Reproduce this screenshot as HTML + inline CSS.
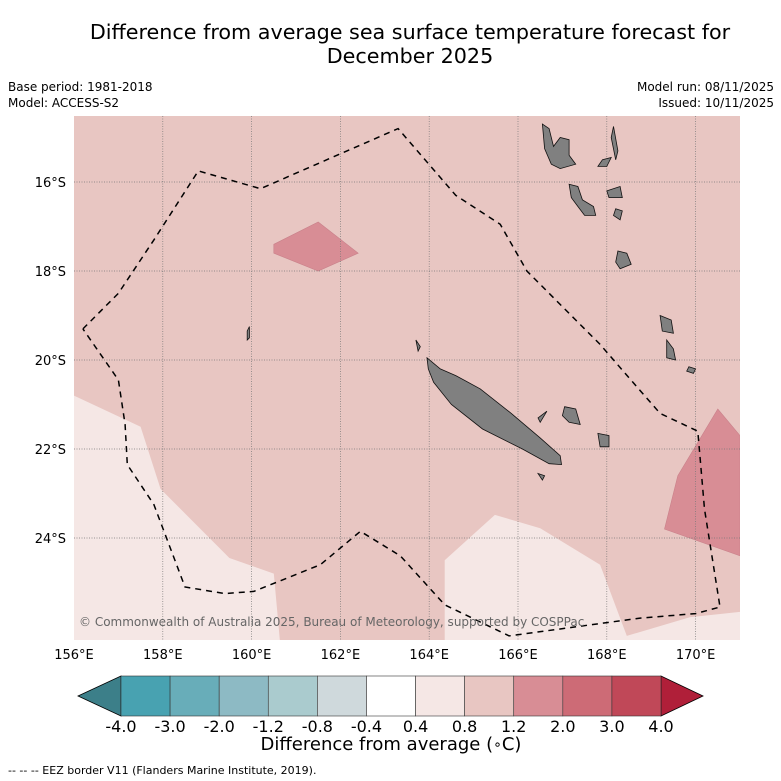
<!DOCTYPE html>
<html><head><meta charset="utf-8"><style>
body{margin:0;background:#fff;width:781px;height:781px;overflow:hidden;font-family:"DejaVu Sans","Liberation Sans",sans-serif}
svg{display:block}
</style></head><body>
<svg id="chart" width="781" height="781" xmlns="http://www.w3.org/2000/svg" font-family="DejaVu Sans, Liberation Sans, sans-serif">
<text x="410" y="39" font-size="20.7" text-anchor="middle">Difference from average sea surface temperature forecast for</text>
<text x="410" y="63" font-size="20.7" text-anchor="middle">December 2025</text>
<text x="8" y="91" font-size="12">Base period: 1981-2018</text>
<text x="8" y="107" font-size="12">Model: ACCESS-S2</text>
<text x="774" y="91" font-size="12" text-anchor="end">Model run: 08/11/2025</text>
<text x="774" y="107" font-size="12" text-anchor="end">Issued: 10/11/2025</text>
<g id="map"></g>
<g id="cbar"></g>
<text x="391" y="750" font-size="18" text-anchor="middle">Difference from average (<tspan font-size="14" dy="-1">∘</tspan><tspan dy="1">C)</tspan></text>
<text x="8" y="774" font-size="11">--  --  -- EEZ border V11 (Flanders Marine Institute, 2019).</text>
</svg>
<script>
const lonTicks=[158,160,162,164,166,168,170];
const lonLabels=["156°E","158°E","160°E","162°E","164°E","166°E","168°E","170°E"];
const latTicks=[16,18,20,22,24];
const levels=["-4.0","-3.0","-2.0","-1.2","-0.8","-0.4","0.4","0.8","1.2","2.0","3.0","4.0"];
const levelColors=["#48a2b1","#68adb9","#8dbac4","#aacbce","#cfd9dc","#ffffff","#f5e7e5","#e8c6c2","#d88d95","#cd6b76","#c04858"];
const lowColor="#3c7f89", highColor="#b01f39";
const lightWest=[[156,20.8],[157.5,21.5],[157.95,22.9],[159.5,24.45],[160.5,24.8],[160.7,27.0],[156,27.0]];
const lightSouth=[[164.35,24.5],[165.48,23.48],[166.5,23.78],[167.85,24.6],[168.45,26.2],[169.87,25.78],[171,25.66],[171,27],[164.35,27]];
const darkNorth=[[160.5,17.4],[161.5,16.9],[162.4,17.6],[161.5,18.0],[160.5,17.6]];
const darkEast=[[169.3,23.8],[169.6,22.6],[170.5,21.1],[171,21.7],[171,24.4]];
const eez=[[156.2,19.3],[157,18.5],[157.8,17.3],[158.8,15.75],[160.2,16.15],[163.3,14.8],[164.6,16.3],[165.6,16.95],[166.2,18.0],[167.3,19.1],[167.85,19.65],[168.5,20.4],[169.2,21.2],[170.05,21.6],[170.2,23.35],[170.55,25.55],[170,25.7],[168.75,25.8],[165.8,26.2],[164.35,25.5],[163.35,24.4],[162.45,23.85],[161.55,24.6],[160.05,25.2],[159.4,25.25],[158.5,25.1],[157.8,23.25],[157.2,22.35],[157.15,21.45],[157,20.45],[156.2,19.3]];
const islands=[
[[163.95,19.95],[164.25,20.2],[164.6,20.35],[165.15,20.65],[165.85,21.2],[166.5,21.75],[166.95,22.15],[166.98,22.35],[166.7,22.33],[166.1,22.0],[165.2,21.55],[164.5,21.0],[164.1,20.5],[163.98,20.2]],
[[166.55,14.7],[166.7,14.8],[166.8,15.2],[166.95,15.0],[167.15,15.05],[167.15,15.4],[167.3,15.6],[166.95,15.7],[166.75,15.6],[166.6,15.25]],
[[167.15,16.05],[167.35,16.1],[167.45,16.4],[167.7,16.55],[167.75,16.75],[167.5,16.75],[167.35,16.55],[167.2,16.35]],
[[167.9,15.5],[168.1,15.45],[168.0,15.65],[167.8,15.65]],
[[168.15,14.75],[168.25,15.3],[168.2,15.5],[168.1,15.0]],
[[168.0,16.2],[168.3,16.1],[168.35,16.35],[168.05,16.35]],
[[168.2,16.6],[168.35,16.65],[168.3,16.85],[168.15,16.75]],
[[168.25,17.55],[168.45,17.6],[168.55,17.85],[168.3,17.95],[168.2,17.8]],
[[169.2,19.0],[169.45,19.1],[169.5,19.4],[169.25,19.35]],
[[169.35,19.55],[169.5,19.75],[169.55,20.0],[169.35,19.95]],
[[169.85,20.15],[170.0,20.2],[169.95,20.3],[169.8,20.25]],
[[167.05,21.05],[167.3,21.1],[167.4,21.45],[167.15,21.4],[167.0,21.25]],
[[167.8,21.65],[168.05,21.7],[168.05,21.95],[167.85,21.95]],
[[166.45,21.3],[166.65,21.15],[166.5,21.4]],
[[166.45,22.55],[166.6,22.6],[166.55,22.7]],
[[159.9,19.35],[159.95,19.25],[159.95,19.5],[159.9,19.55]],
[[163.7,19.55],[163.8,19.7],[163.75,19.8]]];
const NS="http://www.w3.org/2000/svg";
const X=lon=>74+(lon-156)*44.4, Y=lat=>182+(lat-16)*44.5;
const L=74,R=740,T=116,B=640;
const map=document.getElementById('map'), cb=document.getElementById('cbar');
function mk(tag,attrs,parent){const e=document.createElementNS(NS,tag);for(const k in attrs)e.setAttribute(k,attrs[k]);parent.appendChild(e);return e;}
function pts(a){return a.map(p=>X(p[0]).toFixed(1)+","+Y(p[1]).toFixed(1)).join(" ");}
const defs=mk('defs',{},map);const cp=mk('clipPath',{id:'clip'},defs);mk('rect',{x:L,y:T,width:R-L,height:B-T},cp);
const g=mk('g',{'clip-path':'url(#clip)'},map);
const bg=mk('rect',{x:L,y:T,width:R-L,height:B-T,fill:levelColors[7]},g);


[[lightWest,6,'anomaly-light-west'],[lightSouth,6,'anomaly-light-south'],[darkNorth,8,'anomaly-warm-north'],[darkEast,8,'anomaly-warm-east']].forEach(r=>{
 const p=mk('polygon',{points:pts(r[0]),fill:levelColors[r[1]],stroke:r[1]==8?'#c9808a':'none','stroke-width':0.6},g);
 
 
});
lonTicks.forEach(v=>{const l=mk('line',{x1:X(v),x2:X(v),y1:T,y2:B,stroke:'#777','stroke-width':0.7,'stroke-dasharray':'1,1.5'},g);
 
 });
latTicks.forEach(v=>{const l=mk('line',{x1:L,x2:R,y1:Y(v),y2:Y(v),stroke:'#777','stroke-width':0.7,'stroke-dasharray':'1,1.5'},g);
 
 });
islands.forEach(is=>{const p=mk('polygon',{points:pts(is),fill:'#808080',stroke:'#111','stroke-width':0.8},g);
 
 });
const ez=mk('polyline',{points:pts(eez),fill:'none',stroke:'#000','stroke-width':1.5,'stroke-dasharray':'6,5'},g);


const cr=mk('text',{x:79,y:626,'font-size':12,fill:'#666'},g);cr.textContent="© Commonwealth of Australia 2025, Bureau of Meteorology, supported by COSPPac";


lonLabels.forEach((s,i)=>{const t=mk('text',{x:X(156+2*i),y:659,'font-size':13,'text-anchor':'middle'},map);t.textContent=s;
 
 });
latTicks.forEach(v=>{const t=mk('text',{x:66,y:Y(v)+5,'font-size':13,'text-anchor':'end'},map);t.textContent=v+"°S";
 
 });
const c0=121,c1=661,cy0=676,cy1=716,w=(c1-c0)/levelColors.length;
const lt=mk('polygon',{points:`78,696 ${c0},${cy0} ${c0},${cy1}`,fill:lowColor,stroke:'#000','stroke-width':0.8},cb);


const rt=mk('polygon',{points:`703,696 ${c1},${cy0} ${c1},${cy1}`,fill:highColor,stroke:'#000','stroke-width':0.8},cb);


levelColors.forEach((c,i)=>{const r=mk('rect',{x:c0+i*w,y:cy0,width:w,height:cy1-cy0,fill:c,stroke:'#333','stroke-width':0.6},cb);
 
 });
levels.forEach((s,i)=>{const t=mk('text',{x:c0+i*w,y:720,'font-size':16,'text-anchor':'middle','dominant-baseline':'hanging'},cb);t.textContent=s;
 
 });
</script>
</body></html>
